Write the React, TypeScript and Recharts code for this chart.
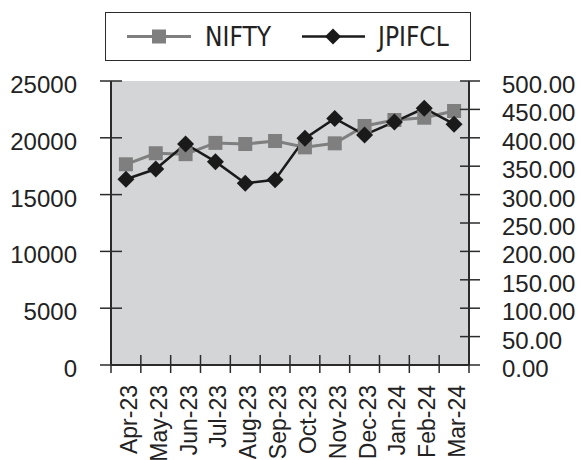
import React from 'react';
import { ComposedChart, Line, XAxis, YAxis, CartesianGrid } from 'recharts';

const months = [
  'Apr-23', 'May-23', 'Jun-23', 'Jul-23', 'Aug-23', 'Sep-23',
  'Oct-23', 'Nov-23', 'Dec-23', 'Jan-24', 'Feb-24', 'Mar-24',
];
const nifty = [17667, 18640, 18560, 19550, 19454, 19718, 19160, 19513, 21039, 21567, 21770, 22359];
const jpifcl = [327, 345, 389, 358, 320, 326, 399, 434, 405, 428, 452, 424];
const leftTicks = [0, 5000, 10000, 15000, 20000, 25000];
const rightTicks = [0, 50, 100, 150, 200, 250, 300, 350, 400, 450, 500];

const data = months.map((month, i) => ({ month, nifty: nifty[i], jpifcl: jpifcl[i] }));

const W = 581;
const H = 460;
const M = { top: 81, left: 11, right: 0, bottom: 0 };
const LEFT_W = 100;
const RIGHT_W = 112;
const PLOT_W = W - M.left - LEFT_W - RIGHT_W;
const BW = PLOT_W / months.length;

const AXIS = '#2b2b2b';
const GREY = '#7f7f7f';
const DARK = '#1a1a1a';
const FONT = '"Liberation Sans", Arial, sans-serif';
const NARROW = '"Liberation Sans Narrow", "DejaVu Sans Condensed", sans-serif';

function LeftTick({ x, y, payload }: any) {
  return (
    <g>
      <line x1={x - 11} x2={x + 11} y1={y} y2={y} stroke={AXIS} strokeWidth={1.5} />
      <text x={x - 34} y={y + 12} textAnchor="end" fontSize={24} fill="#222" fontFamily={FONT}>
        {payload.value}
      </text>
    </g>
  );
}

function RightTick({ x, y, payload }: any) {
  return (
    <g>
      <line x1={x - 9} x2={x + 11} y1={y} y2={y} stroke={AXIS} strokeWidth={1.5} />
      <text x={x + 33} y={y + 12} textAnchor="start" fontSize={24} fill="#222" fontFamily={FONT}>
        {Number(payload.value).toFixed(2)}
      </text>
    </g>
  );
}

function MonthTick({ x, y, payload, index }: any) {
  const i = payload.index ?? index;
  const tx = x + 11;
  const ty = y + 20;
  return (
    <g>
      <line x1={x - BW / 2} x2={x - BW / 2} y1={y - 10} y2={y + 8} stroke={AXIS} strokeWidth={1.5} />
      {i === months.length - 1 && (
        <line x1={x + BW / 2} x2={x + BW / 2} y1={y - 10} y2={y + 8} stroke={AXIS} strokeWidth={1.5} />
      )}
      <text
        x={tx}
        y={ty}
        transform={`rotate(-90, ${tx}, ${ty})`}
        textAnchor="end"
        fontSize={23}
        fill="#222"
        fontFamily={FONT}
      >
        {payload.value}
      </text>
    </g>
  );
}

function SquareDot({ cx, cy }: any) {
  if (cx == null || cy == null) return null;
  return <rect x={cx - 7} y={cy - 7} width={14} height={14} fill={GREY} />;
}

function DiamondDot({ cx, cy }: any) {
  if (cx == null || cy == null) return null;
  const r = 8.5;
  return <polygon points={`${cx},${cy - r} ${cx + r},${cy} ${cx},${cy + r} ${cx - r},${cy}`} fill={DARK} />;
}

function ChartLegend() {
  return (
    <div
      style={{
        position: 'absolute',
        left: 105,
        top: 12,
        width: 366,
        height: 49,
        border: `1px solid ${AXIS}`,
        boxSizing: 'border-box',
        background: '#fff',
      }}
    >
      <svg width={364} height={47} style={{ display: 'block' }}>
        <line x1={21} x2={85} y1={23.5} y2={23.5} stroke={GREY} strokeWidth={3} />
        <rect x={46} y={16.5} width={14} height={14} fill={GREY} />
        <text x={99} y={33} fontSize={26} fill="#222" fontFamily={NARROW}>NIFTY</text>
        <line x1={196} x2={259} y1={23.5} y2={23.5} stroke={DARK} strokeWidth={2.5} />
        <polygon points="227,15.5 235,23.5 227,31.5 219,23.5" fill={DARK} />
        <text x={272} y={33} fontSize={26} fill="#222" fontFamily={NARROW}>JPIFCL</text>
      </svg>
    </div>
  );
}

export default function App() {
  return (
    <div style={{ position: 'absolute', left: 0, top: 0, width: W, height: H, background: '#fff' }}>
      <ComposedChart width={W} height={H} data={data} margin={M}>
        <CartesianGrid horizontal={false} vertical={false} fill="#d4d5d7" />
        <XAxis
          dataKey="month"
          scale="band"
          height={95}
          interval={0}
          tickLine={false}
          tickSize={0}
          tickMargin={0}
          axisLine={{ stroke: AXIS, strokeWidth: 2 }}
          tick={<MonthTick />}
        />
        <YAxis
          yAxisId="left"
          width={LEFT_W}
          domain={[0, 25000]}
          ticks={leftTicks}
          interval={0}
          tickLine={false}
          tickSize={0}
          tickMargin={0}
          axisLine={{ stroke: AXIS, strokeWidth: 2 }}
          tick={<LeftTick />}
        />
        <YAxis
          yAxisId="right"
          orientation="right"
          width={RIGHT_W}
          domain={[0, 500]}
          ticks={rightTicks}
          interval={0}
          tickLine={false}
          tickSize={0}
          tickMargin={0}
          axisLine={{ stroke: AXIS, strokeWidth: 2 }}
          tick={<RightTick />}
        />
        <Line
          yAxisId="left"
          dataKey="nifty"
          name="NIFTY"
          type="linear"
          stroke={GREY}
          strokeWidth={3}
          dot={<SquareDot />}
          activeDot={false}
          isAnimationActive={false}
        />
        <Line
          yAxisId="right"
          dataKey="jpifcl"
          name="JPIFCL"
          type="linear"
          stroke={DARK}
          strokeWidth={2.5}
          dot={<DiamondDot />}
          activeDot={false}
          isAnimationActive={false}
        />
      </ComposedChart>
      <ChartLegend />
    </div>
  );
}
